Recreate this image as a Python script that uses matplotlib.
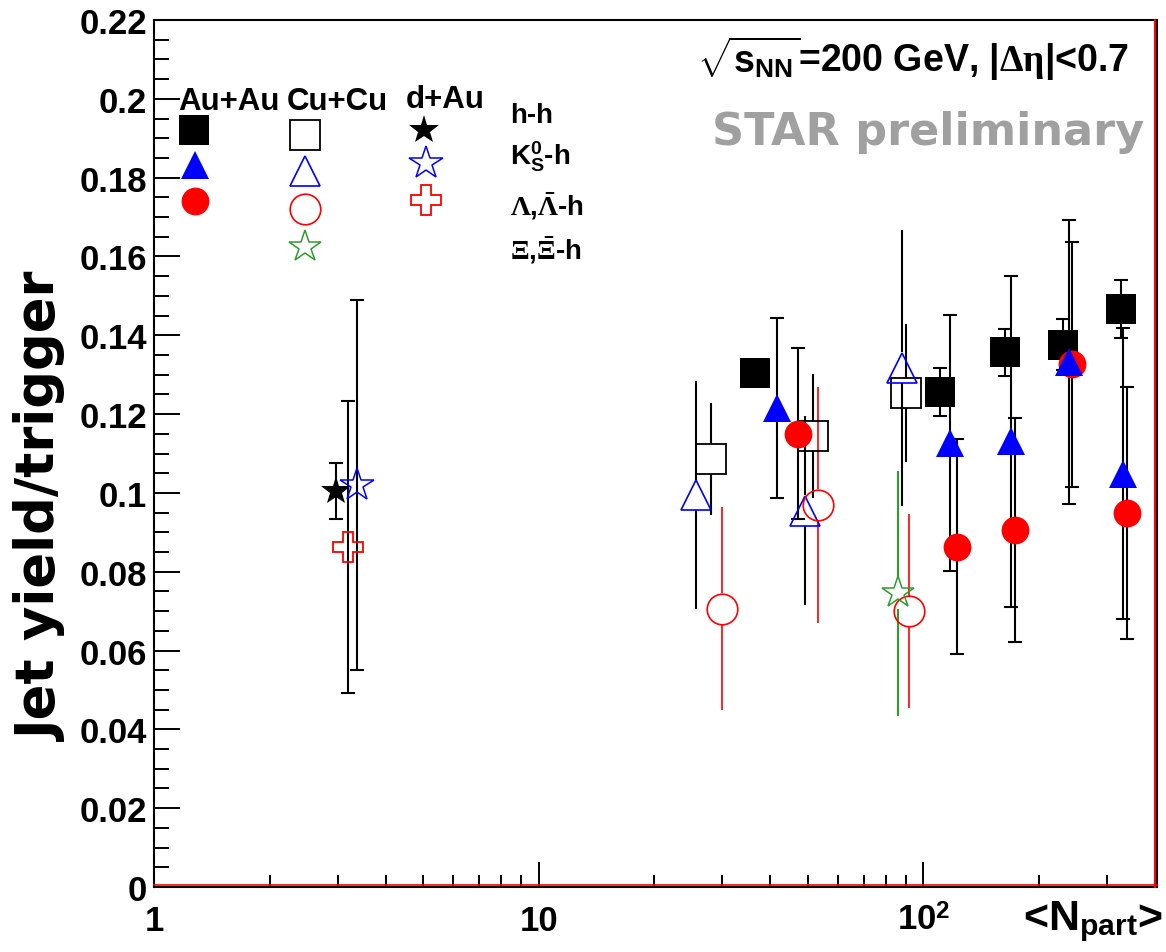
import numpy as np
import matplotlib
matplotlib.use('Agg')
import matplotlib.pyplot as plt
from matplotlib.ticker import FixedLocator, FixedFormatter, MultipleLocator, NullFormatter

plt.rcParams['font.family'] = ['Liberation Sans', 'DejaVu Sans']
plt.rcParams['font.weight'] = 'bold'
plt.rcParams['mathtext.fontset'] = 'custom'
plt.rcParams['mathtext.rm'] = 'Liberation Serif'
plt.rcParams['mathtext.bf'] = 'Liberation Sans:bold'
plt.rcParams['mathtext.it'] = 'Liberation Serif:italic'
plt.rcParams['mathtext.sf'] = 'Liberation Sans:bold'

# ---------------- data ----------------
# Au+Au
auau_hh_x = [36.5, 110.7, 162.8, 231.0, 326.0]
auau_hh_y = [0.1305, 0.1256, 0.1357, 0.1376, 0.1467]
auau_hh_e = [0.0, 0.0060, 0.0060, 0.0065, 0.0073]
auau_k0_x = [41.6, 117.0, 169.5, 239.0, 331.0]
auau_k0_y = [0.1216, 0.1127, 0.1131, 0.1332, 0.1049]
auau_k0_e = [0.0228, 0.0325, 0.0420, 0.0360, 0.0370]
auau_lam_x = [47.1, 122.0, 173.3, 244.0, 338.0]
auau_lam_y = [0.1150, 0.0864, 0.0906, 0.1326, 0.0950]
auau_lam_e = [0.0217, 0.0273, 0.0285, 0.0310, 0.0320]
# Cu+Cu
cucu_hh_x = [28.0, 51.8, 89.9]
cucu_hh_y = [0.1087, 0.1144, 0.1254]
cucu_hh_e = [0.0142, 0.0157, 0.0175]
cucu_k0_x = [25.6, 49.3, 88.0]
cucu_k0_y = [0.0995, 0.0955, 0.1318]
cucu_k0_e = [0.0290, 0.0240, 0.0350]
cucu_lam_x = [30.0, 53.3, 92.0]
cucu_lam_y = [0.0706, 0.0970, 0.0700]
cucu_lam_e = [0.0257, 0.0300, 0.0247]
cucu_xi_x = [85.9]
cucu_xi_y = [0.0745]
cucu_xi_e = [0.0310]
# d+Au
dau_hh_x = [2.97]
dau_hh_y = [0.1005]
dau_hh_e = [0.0070]
dau_k0_x = [3.38]
dau_k0_y = [0.1020]
dau_k0_e = [0.0470]
dau_lam_x = [3.19]
dau_lam_y = [0.0862]
dau_lam_e = [0.0370]

x_tick_vals = [1, 10, 100]
x_tick_labels = ['1', '10', r'10$^{\mathbf{2}}$']
y_tick_vals = [0, 0.02, 0.04, 0.06, 0.08, 0.1, 0.12, 0.14, 0.16, 0.18, 0.2, 0.22]
y_tick_labels = ['0', '0.02', '0.04', '0.06', '0.08', '0.1', '0.12', '0.14',
                 '0.16', '0.18', '0.2', '0.22']

W, H = 1166, 953
fig = plt.figure(figsize=(W / 100, H / 100), dpi=100)
ax = fig.add_axes([154 / W, (H - 888) / H, (1157 - 154) / W, (888 - 21) / H])
ax.set_xscale('log')
ax.set_xlim(1, 405)
ax.set_ylim(0, 0.22)

ax.xaxis.set_major_locator(FixedLocator(x_tick_vals))
ax.xaxis.set_major_formatter(FixedFormatter(x_tick_labels))
ax.xaxis.set_minor_formatter(NullFormatter())
ax.yaxis.set_major_locator(FixedLocator(y_tick_vals))
ax.yaxis.set_major_formatter(FixedFormatter(y_tick_labels))
ax.yaxis.set_minor_locator(MultipleLocator(0.005))
ax.tick_params(axis='both', which='both', direction='in', width=1.4, color='black')
ax.tick_params(axis='x', which='major', length=18, pad=12, labelsize=25)
ax.tick_params(axis='x', which='minor', length=9)
ax.tick_params(axis='y', which='major', length=19, pad=5, labelsize=25)
ax.tick_params(axis='y', which='minor', length=11)
for lab in ax.get_xticklabels() + ax.get_yticklabels():
    lab.set_fontweight('bold')
for s in ax.spines.values():
    s.set_linewidth(1.5)
    s.set_color('black')
# ROOT-like red frame line on bottom/right
ax.plot([0, 1], [0.002, 0.002], transform=ax.transAxes, color='red', lw=1.2,
        clip_on=False, zorder=10)
ax.plot([0.998, 0.998], [0, 1], transform=ax.transAxes, color='red', lw=1.5,
        clip_on=False, zorder=10)

# conversion points -> data units in y (for error bar gaps around open markers)
ax_h_px = ax.get_position().height * H
pt2data = (100 / 72) * 0.22 / ax_h_px


def gapped_bars(x, y, e, gap_pt, color, lw):
    g = gap_pt * pt2data
    x = np.asarray(x); y = np.asarray(y); e = np.asarray(e)
    ax.vlines(x, y + g, y + e, colors=color, lw=lw, zorder=2)
    ax.vlines(x, y - e, y - g, colors=color, lw=lw, zorder=2)


def capped_bars(x, y, e, color='black'):
    ax.errorbar(x, y, yerr=e, fmt='none', ecolor=color, elinewidth=1.5,
                capsize=5, capthick=1.5, zorder=2)


# Cu+Cu (open markers, gapped bars, no caps)
gapped_bars(cucu_hh_x, cucu_hh_y, cucu_hh_e, 11, 'black', 1.5)
gapped_bars(cucu_k0_x, cucu_k0_y, cucu_k0_e, 11, 'black', 1.5)
gapped_bars(cucu_lam_x, cucu_lam_y, cucu_lam_e, 11, 'red', 1.2)
gapped_bars(cucu_xi_x, cucu_xi_y, cucu_xi_e, 11, '#2ca02c', 1.5)
# d+Au
capped_bars(dau_hh_x, dau_hh_y, dau_hh_e)
capped_bars(dau_k0_x, dau_k0_y, dau_k0_e)
capped_bars(dau_lam_x, dau_lam_y, dau_lam_e)
# Au+Au
capped_bars(auau_hh_x, auau_hh_y, auau_hh_e)
capped_bars(auau_k0_x, auau_k0_y, auau_k0_e)
capped_bars(auau_lam_x, auau_lam_y, auau_lam_e)

GREEN = '#2e9a2e'
styles = {
    'auau_hh': dict(marker='s', ms=21, mfc='black', mec='black', mew=0),
    'auau_k0': dict(marker='^', ms=20, mfc='blue', mec='blue', mew=0),
    'auau_lam': dict(marker='o', ms=20, mfc='red', mec='red', mew=0),
    'cucu_hh': dict(marker='s', ms=21, mfc='none', mec='black', mew=1.3),
    'cucu_k0': dict(marker='^', ms=21, mfc='none', mec='blue', mew=1.2),
    'cucu_lam': dict(marker='o', ms=22, mfc='none', mec='red', mew=1.2),
    'cucu_xi': dict(marker='*', ms=24, mfc='none', mec=GREEN, mew=1.1),
    'dau_hh': dict(marker='*', ms=22, mfc='black', mec='black', mew=0),
    'dau_k0': dict(marker='*', ms=25, mfc='none', mec='blue', mew=1.1),
    'dau_lam': dict(marker='P', ms=22, mfc='none', mec='red', mew=1.3),
}

ax.plot(cucu_hh_x, cucu_hh_y, ls='none', zorder=3, **styles['cucu_hh'])
ax.plot(cucu_k0_x, cucu_k0_y, ls='none', zorder=3, **styles['cucu_k0'])
ax.plot(cucu_lam_x, cucu_lam_y, ls='none', zorder=3, **styles['cucu_lam'])
ax.plot(cucu_xi_x, cucu_xi_y, ls='none', zorder=3, **styles['cucu_xi'])
ax.plot(auau_hh_x, auau_hh_y, ls='none', zorder=4, **styles['auau_hh'])
ax.plot(auau_lam_x, auau_lam_y, ls='none', zorder=4, **styles['auau_lam'])
ax.plot(auau_k0_x, auau_k0_y, ls='none', zorder=5, **styles['auau_k0'])
ax.plot(dau_hh_x, dau_hh_y, ls='none', zorder=4, **styles['dau_hh'])
ax.plot(dau_lam_x, dau_lam_y, ls='none', zorder=4, **styles['dau_lam'])
ax.plot(dau_k0_x, dau_k0_y, ls='none', zorder=5, **styles['dau_k0'])


def fx(px):
    return px / W


def fy(py):
    return 1 - py / H


# ---------------- legend (ROOT-style grid) ----------------
legend_marks = [
    ('auau_hh', 194, 131), ('auau_k0', 195, 166), ('auau_lam', 195, 202),
    ('cucu_hh', 305, 136), ('cucu_k0', 305, 172), ('cucu_lam', 305, 210),
    ('cucu_xi', 305, 248),
    ('dau_hh', 424, 131), ('dau_k0', 426, 164), ('dau_lam', 426, 201),
]
for key, px, py in legend_marks:
    ax.plot([fx(px)], [fy(py)], transform=fig.transFigure, clip_on=False,
            ls='none', zorder=6, **styles[key])

fig.text(fx(178), fy(110), 'Au+Au', fontsize=22.5, fontweight='bold', va='baseline')
fig.text(fx(287), fy(110), 'Cu+Cu', fontsize=22.5, fontweight='bold', va='baseline')
fig.text(fx(406), fy(108), 'd+Au', fontsize=22.5, fontweight='bold', va='baseline')
fig.text(fx(510), fy(123), 'h-h', fontsize=20, fontweight='bold', va='baseline')
fig.text(fx(510), fy(165), r'K$^{\mathbf{0}}_{\mathbf{S}}$-h', fontsize=20,
         fontweight='bold', va='baseline')
fig.text(fx(510), fy(215), r'$\mathrm{\Lambda}$,$\mathrm{\bar{\Lambda}}$-h',
         fontsize=20, fontweight='bold', va='baseline')
fig.text(fx(510), fy(260), r'$\mathrm{\Xi}$,$\mathrm{\bar{\Xi}}$-h',
         fontsize=20, fontweight='bold', va='baseline')

# ---------------- annotations ----------------
fig.text(fx(697), fy(72),
         r'$\sqrt{\mathbf{s}_{\mathbf{NN}}}$=200 GeV, |$\mathrm{\Delta\eta}$|<0.7',
         fontsize=27, fontweight='bold', va='baseline', ha='left')
fig.text(fx(712), fy(145), 'STAR preliminary', fontsize=32, fontweight='bold',
         family='DejaVu Sans', color='#a0a0a0', va='baseline', ha='left')

fig.text(fx(42), fy(507), 'Jet yield/trigger', fontsize=38, fontweight='bold',
         family='DejaVu Sans', rotation=90, ha='center', va='center')
fig.text(fx(1163), fy(930), r'<N$_{\mathbf{part}}$>', fontsize=31,
         fontweight='bold', ha='right', va='baseline')

fig.savefig('out.png', dpi=100)
